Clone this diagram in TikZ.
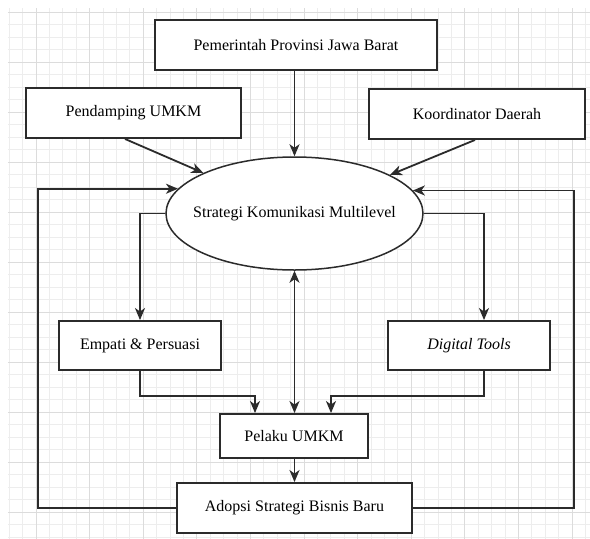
\documentclass[tikz,border=0pt]{standalone}
\usepackage{fontspec}
\setmainfont{Liberation Serif}
\usetikzlibrary{shapes.geometric,arrows.meta}
\definecolor{gridminor}{HTML}{EDEDED}
\definecolor{gridmajor}{HTML}{DCDCDC}
\definecolor{ink}{HTML}{2B2B2B}
\begin{document}
\begin{tikzpicture}[x=1pt,y=-1pt,
  box/.style={draw=ink,line width=1.9pt,fill=white,inner sep=0pt,
    font=\fontsize{16}{19}\selectfont,text=black},
  bubble/.style={ellipse,draw=ink,line width=1.5pt,fill=white,inner xsep=-20pt,inner ysep=0pt,
    font=\fontsize{16}{19}\selectfont,text=black},
  arr/.style={draw=ink,line width=1.8pt,-{Stealth[length=12pt,width=10pt,inset=3.5pt]}},
  darr/.style={draw=ink,line width=1.8pt,{Stealth[length=12pt,width=10pt,inset=3.5pt]}-{Stealth[length=12pt,width=10pt,inset=3.5pt]}}]
\useasboundingbox (0,0) rectangle (590,539);
\fill[white] (0,0) rectangle (590,539);
% grid
\begin{scope}
\clip (8,8) rectangle (590,539);
\foreach \i in {0,...,43} {\draw[gridminor,line width=0.8pt] ({9.2+13.4*\i},8) -- ({9.2+13.4*\i},539);}
\foreach \i in {0,...,42} {\draw[gridminor,line width=0.8pt] (8,{12+12.5*\i}) -- (590,{12+12.5*\i});}
\foreach \i in {0,...,10} {\draw[gridmajor,line width=0.9pt] ({36+53.6*\i},8) -- ({36+53.6*\i},539);}
\foreach \i in {0,...,10} {\draw[gridmajor,line width=0.9pt] (8,{12+50*\i}) -- (590,{12+50*\i});}
\end{scope}
% nodes
\node[box,minimum width=282pt,minimum height=50pt] (pem) at (296,45) {Pemerintah Provinsi Jawa Barat};
\node[box,minimum width=215pt,minimum height=50pt] (pend) at (133.5,113) {Pendamping UMKM};
\node[box,minimum width=216pt,minimum height=50pt] (koord) at (477,114) {Koordinator Daerah};
\node[bubble,minimum width=257pt,minimum height=113pt] (ell) at (294.5,213.5) {Strategi Komunikasi Multilevel};
\node[box,minimum width=162pt,minimum height=49pt] (emp) at (140,345.5) {Empati \& Persuasi};
\node[box,minimum width=162pt,minimum height=49pt] (dig) at (469,345.5) {\textit{Digital Tools}};
\node[box,minimum width=148pt,minimum height=44pt] (pel) at (294,436) {Pelaku UMKM};
\node[box,minimum width=235pt,minimum height=50pt] (ado) at (294.5,508) {Adopsi Strategi Bisnis Baru};
\coordinate (lx) at (38,0);
\coordinate (rx) at (574,0);
\coordinate (midy) at (0,396);
% connectors
\draw[arr] (ell.north |- pem.south) -- (ell.north);
\draw[arr] ([xshift=-8.5pt]pend.south) -- (ell.156);
\draw[arr] ([xshift=-2pt]koord.south) -- (ell.22.5);
\draw[arr] (ell.west) -| (emp.north);
\draw[arr] (ell.east) -| ([xshift=15pt]dig.north);
\draw[darr] (ell.south) -- (ell.south |- pel.north);
\draw[arr] (emp.south) -- (emp.south |- midy) -| ([xshift=-39pt]pel.north);
\draw[arr] ([xshift=15pt]dig.south) -- ([xshift=15pt]dig.south |- midy) -| ([xshift=37pt]pel.north);
\draw[arr] (pel.south) -- (pel.south -| ado.north) -- (ado.north);
\draw[arr] (ado.west) -- (ado.west -| lx) -- (lx |- ell.168.6) -- (ell.168.6);
\draw[arr] (ado.east) -- (ado.east -| rx) -- (rx |- ell.11.4) -- (ell.11.4);
\end{tikzpicture}
\end{document}
